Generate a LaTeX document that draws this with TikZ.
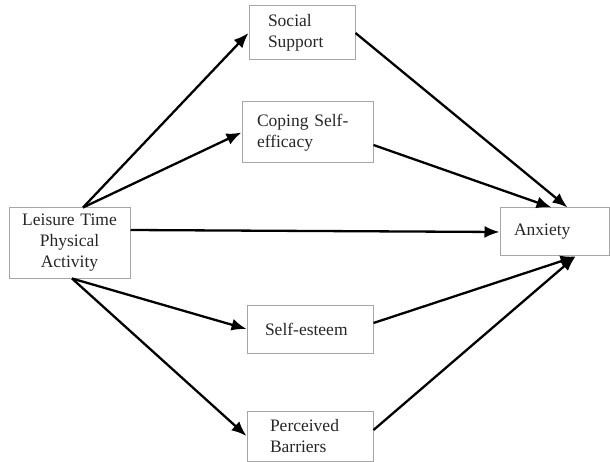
\documentclass[tikz,border=0pt]{standalone}
\usepackage{fontspec}
\setmainfont{Liberation Serif}
\usetikzlibrary{arrows.meta}

\begin{document}
\begin{tikzpicture}[x=1pt,y=-1pt,
	box/.style={draw=gray!70, line width=1pt, inner ysep=0pt, text=black!85,
		font=\fontsize{17.5}{21}\selectfont, align=left},
	arr/.style={line width=2.3pt, -{Latex[length=15pt,width=12pt]}}]
	% Frame of the picture
	\useasboundingbox (0,0) rectangle (610,462);
	
	% Boxes
	\node[box, align=center, inner xsep=7pt, text width=107pt, minimum height=70pt] (leisure) at (69.5,243) {Leisure Time\\Physical\\Activity};
	\node[box, inner xsep=19pt, text width=68pt, minimum height=54pt] (social) at (302,33) {Social\\Support};
	\node[box, inner xsep=15pt, text width=101pt, minimum height=61pt] (coping) at (307.5,132.5) {Coping Self-\\efficacy};
	\node[box, inner xsep=14pt, text width=81pt, minimum height=48pt] (anxiety) at (554.5,232) {Anxiety};
	\node[box, inner xsep=18pt, text width=90pt, minimum height=48pt] (esteem) at (310,329) {Self-esteem};
	\node[box, inner xsep=23pt, text width=80pt, minimum height=50pt] (barriers) at (310,436) {Perceived\\Barriers};
	
	% Paths out of leisure time physical activity
	\draw[arr] ([xshift=13.5pt]leisure.north) -- (social.west);
	\draw[arr] ([xshift=13.5pt]leisure.north) -- (coping.west);
	\draw[arr] ([yshift=13pt]leisure.east) -- (anxiety.west);
	\draw[arr] ([xshift=2.5pt]leisure.south) -- (esteem.west);
	\draw[arr] ([xshift=2.5pt]leisure.south) -- (barriers.west);
	
	% Paths into anxiety
	\draw[arr] (social.east) -- ([xshift=13pt]anxiety.north);
	\draw[arr] ([yshift=-12.5pt]coping.east) -- ([xshift=-3pt]anxiety.north);
	\draw[arr] ([yshift=6pt]esteem.east) -- ([xshift=21pt]anxiety.south);
	\draw[arr] ([yshift=6pt]barriers.east) -- ([xshift=21pt]anxiety.south);
	
\end{tikzpicture}
\end{document}
